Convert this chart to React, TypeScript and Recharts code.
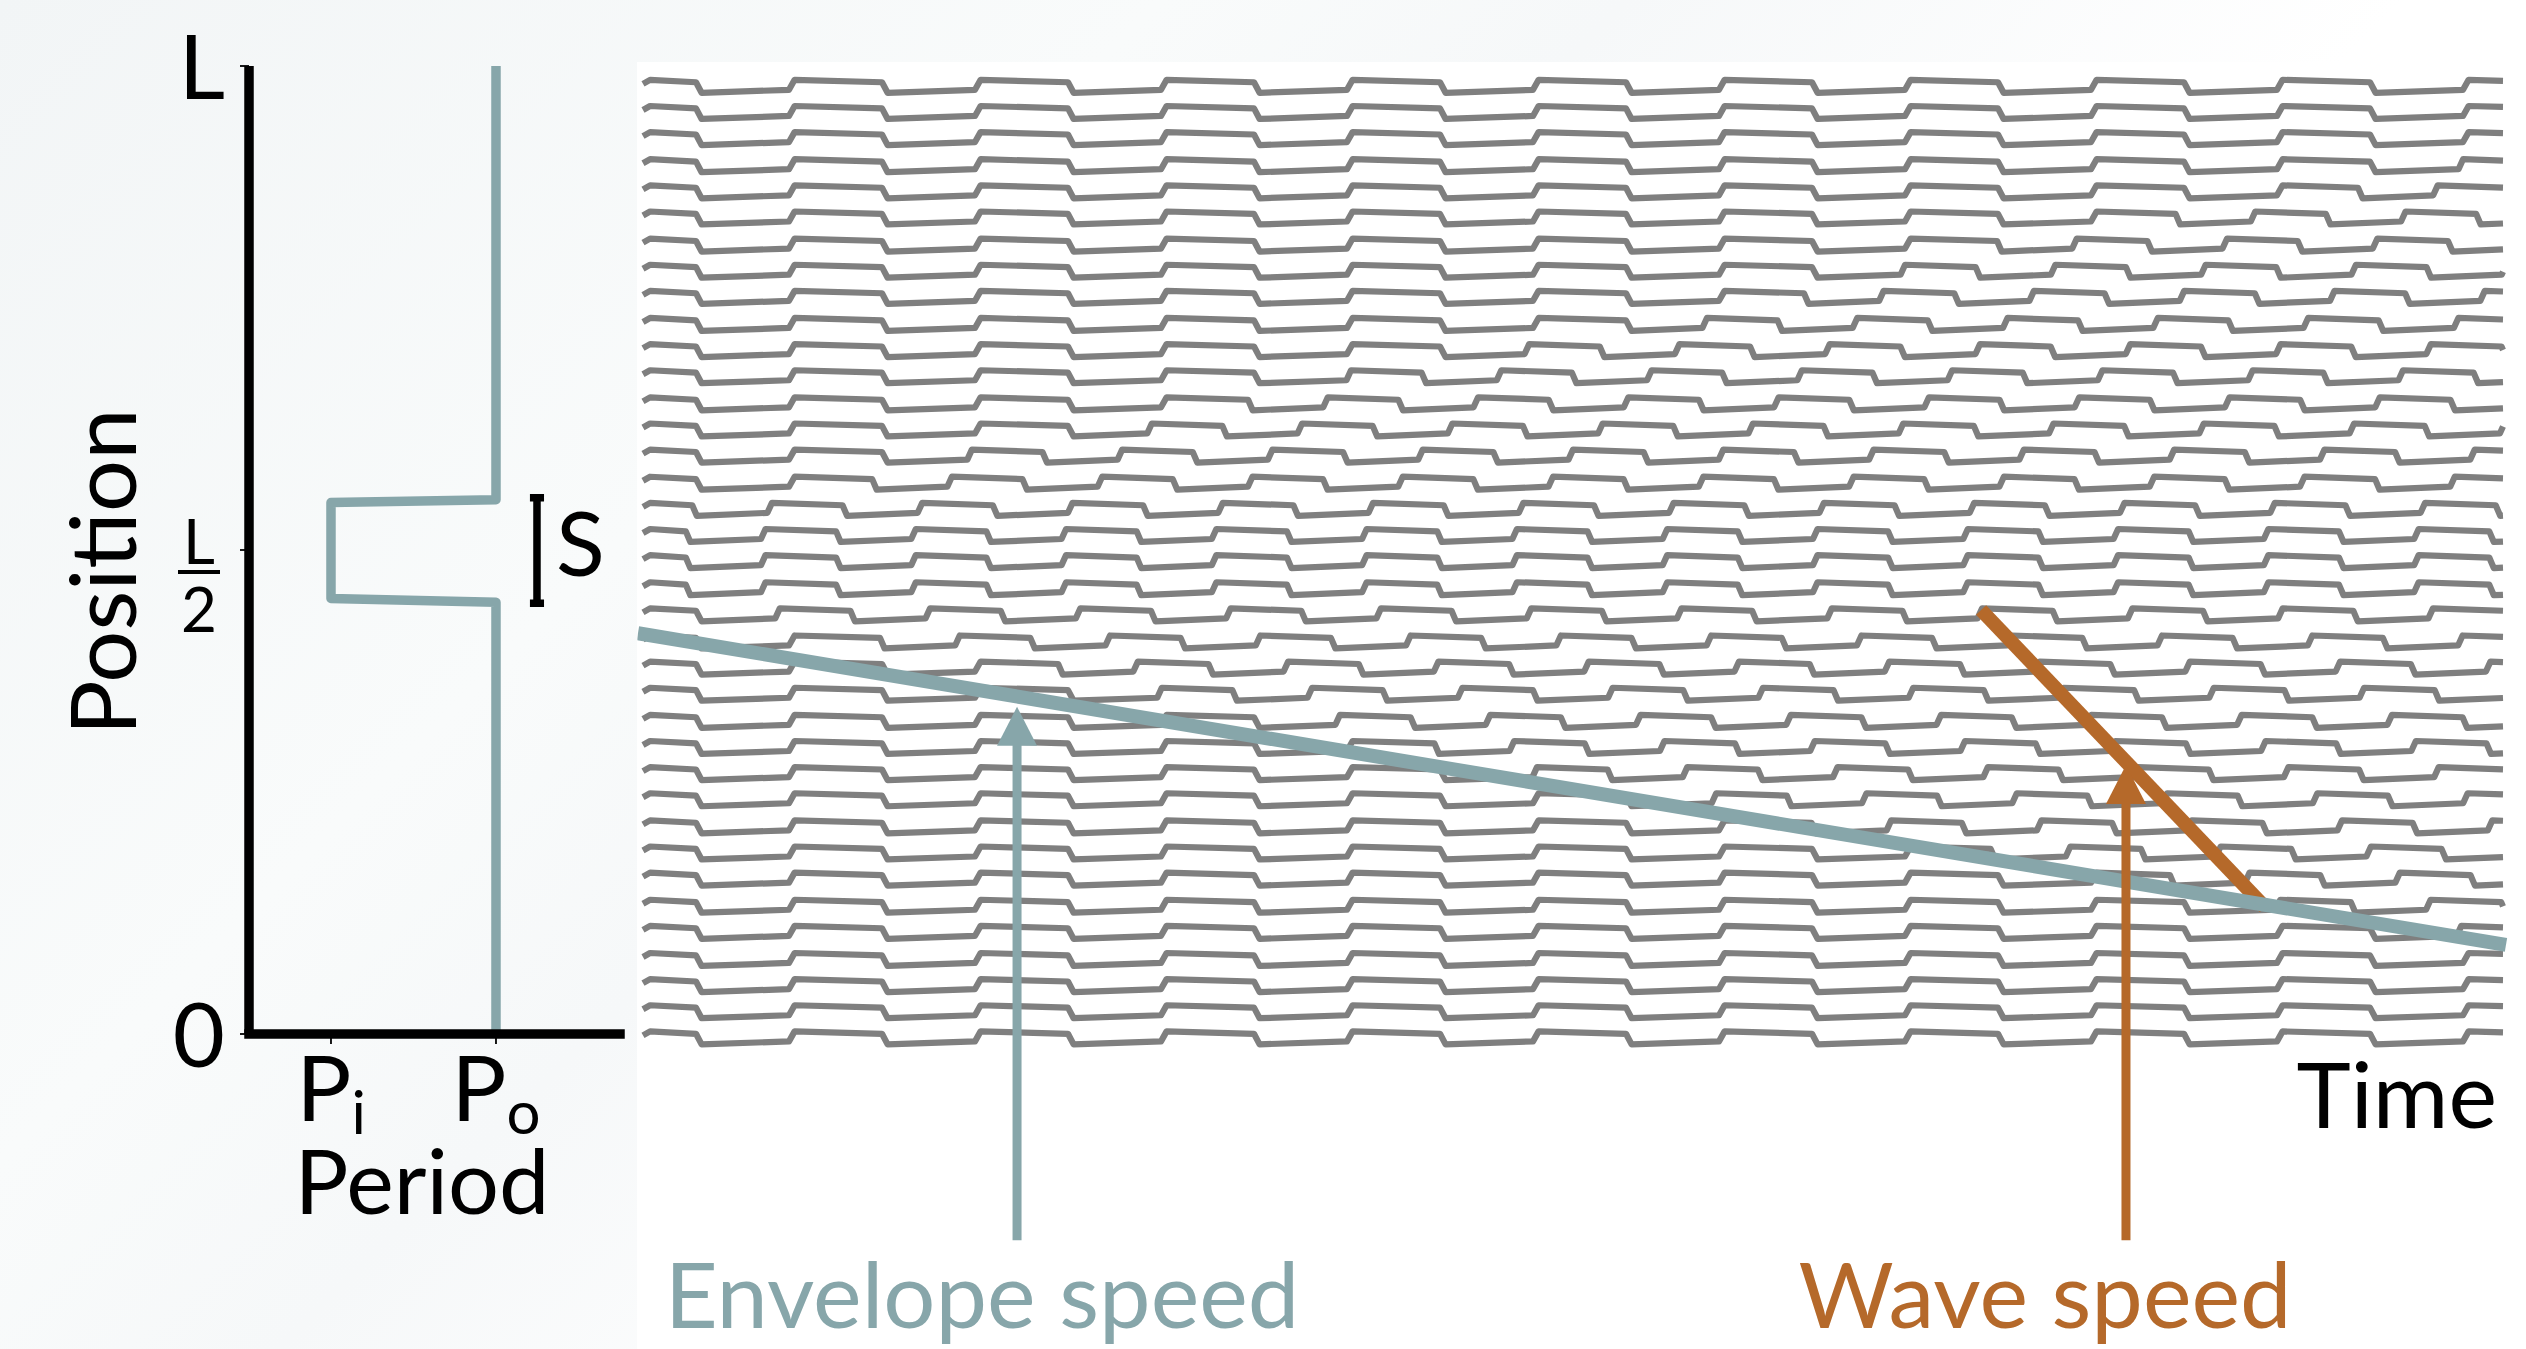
import React from 'react';
import { ComposedChart, Line, XAxis, YAxis } from 'recharts';

const FONT = 'Lato, "Noto Sans", sans-serif';
const TEAL = '#87a6aa';
const ORANGE = '#b5692a';
const GRAY = '#7f7f7f';

// ---------- left panel data ----------
const POSITION_TICKS = [0, 0.5, 1];
const POSITION_TICK_LABELS = ['0', 'L/2', 'L'];
const PERIOD_INNER = 0.808;
const PERIOD_OUTER = 1;
const PERIOD_TICKS = [PERIOD_INNER, PERIOD_OUTER];
const PERIOD_TICK_MAIN = ['P', 'P'];
const PERIOD_TICK_SUB = ['i', 'o'];
const PROFILE_PERIODS = [1, 1, 0.808, 0.808, 1, 1];
const PROFILE_POSITIONS = [0, 0.446, 0.45, 0.549, 0.552, 1];
const S_BRACKET_POSITIONS = [0.445, 0.554];
const S_BRACKET_PERIOD = 1.0477;
const S_BRACKET_HALF = 0.0082;

// ---------- right panel data ----------
// position of each oscillator row (fraction of L)
const ROW_POSITIONS = [
  0.979, 0.952, 0.925, 0.897, 0.87, 0.843, 0.815, 0.788, 0.761, 0.733,
  0.706, 0.679, 0.651, 0.624, 0.597, 0.569, 0.542, 0.515, 0.488, 0.46,
  0.433, 0.405, 0.378, 0.351, 0.323, 0.296, 0.269, 0.242, 0.214, 0.187,
  0.16, 0.132, 0.105, 0.077, 0.05, 0.023, -0.004,
];
// time (in outer periods) at which each row switches from P_o to P_i (null = never)
const ROW_SWITCH_TIMES: (number | null)[] = [
  null, null, null, 9.66, 8.95, 8.05, 7.26, 6.66, 6.06, 5.32,
  4.55, 3.77, 3.12, 2.4, 1.57, 1.01, 0.18, 0, 0, 0,
  0.4, 1.23, 2.01, 2.68, 3.46, 4.13, 4.77, 5.58, 6.27, 7.08,
  7.89, 8.75, 9.61, null, null, null, null,
];
const START_PHASE = 0.2;
const TIME_END = 10;
const WAVE_PHASES = [0.015, 0.485, 0.515, 0.985];
const WAVE_LEVELS = [1, 0.63, -1, -0.54];
const START_HOOK_TIMES = [0, 0.038];
const START_HOOK_LEVELS = [0.38, 1];
const WAVE_AMPLITUDE = 0.0067;

const ENVELOPE_TIMES = [-0.027, 10.016];
const ENVELOPE_POSITIONS = [0.414, 0.092];
const WAVEFRONT_TIMES = [7.194, 8.72];
const WAVEFRONT_POSITIONS = [0.438, 0.131];
const ARROW_TIMES = [2.011, 7.973];
const ARROW_BASES = [-0.213, -0.213];
const ARROW_TIPS = [0.338, 0.278];
const ARROW_COLORS = [TEAL, ORANGE];
const ARROW_HEAD_OFFSET = 0.0248;

// ---------- build tables ----------
const profileData = PROFILE_PERIODS.map((period, i) => ({ period, pos: PROFILE_POSITIONS[i] }));
const bracketData = [
  { period: S_BRACKET_PERIOD - S_BRACKET_HALF, pos: S_BRACKET_POSITIONS[1] },
  { period: S_BRACKET_PERIOD + S_BRACKET_HALF, pos: S_BRACKET_POSITIONS[1] },
  { period: S_BRACKET_PERIOD, pos: S_BRACKET_POSITIONS[1] },
  { period: S_BRACKET_PERIOD, pos: S_BRACKET_POSITIONS[0] },
  { period: S_BRACKET_PERIOD - S_BRACKET_HALF, pos: S_BRACKET_POSITIONS[0] },
  { period: S_BRACKET_PERIOD + S_BRACKET_HALF, pos: S_BRACKET_POSITIONS[0] },
];

function buildRow(pos: number, sw: number | null) {
  const s = sw === null ? Infinity : Math.max(0, sw);
  const phaseAtSwitch = START_PHASE + s / PERIOD_OUTER;
  const timeOf = (ph: number) =>
    ph <= phaseAtSwitch ? (ph - START_PHASE) * PERIOD_OUTER : s + (ph - phaseAtSwitch) * PERIOD_INNER;
  const phaseOf = (t: number) =>
    t <= s ? START_PHASE + t / PERIOD_OUTER : phaseAtSwitch + (t - s) / PERIOD_INNER;
  const pts: { t: number; p: number }[] = [];
  for (let i = 0; i < START_HOOK_TIMES.length; i++) {
    pts.push({ t: START_HOOK_TIMES[i], p: pos + START_HOOK_LEVELS[i] * WAVE_AMPLITUDE });
  }
  const ph0 = phaseOf(START_HOOK_TIMES[START_HOOK_TIMES.length - 1]);
  const phEnd = phaseOf(TIME_END);
  let lastPh = ph0;
  let lastLvl = START_HOOK_LEVELS[START_HOOK_LEVELS.length - 1];
  for (let k = Math.floor(ph0); k <= Math.ceil(phEnd) + 1; k++) {
    for (let j = 0; j < WAVE_PHASES.length; j++) {
      const ph = k + WAVE_PHASES[j];
      if (ph <= ph0) continue;
      if (ph >= phEnd) {
        const f = (phEnd - lastPh) / (ph - lastPh);
        const lvl = lastLvl + f * (WAVE_LEVELS[j] - lastLvl);
        pts.push({ t: TIME_END, p: pos + lvl * WAVE_AMPLITUDE });
        return pts;
      }
      pts.push({ t: timeOf(ph), p: pos + WAVE_LEVELS[j] * WAVE_AMPLITUDE });
      lastPh = ph;
      lastLvl = WAVE_LEVELS[j];
    }
  }
  return pts;
}

const rows = ROW_POSITIONS.map((pos, i) => buildRow(pos, ROW_SWITCH_TIMES[i]));
const envelopeData = ENVELOPE_TIMES.map((t, i) => ({ t, p: ENVELOPE_POSITIONS[i] }));
const wavefrontData = WAVEFRONT_TIMES.map((t, i) => ({ t, p: WAVEFRONT_POSITIONS[i] }));
const arrowData = ARROW_TIMES.map((t, i) => [
  { t, p: ARROW_BASES[i] },
  { t, p: ARROW_TIPS[i] - ARROW_HEAD_OFFSET },
]);

// ---------- ticks ----------
const PositionTick = (props: any) => {
  const { x, y, payload } = props;
  const idx = POSITION_TICKS.indexOf(payload.value);
  const label = POSITION_TICK_LABELS[idx];
  if (label === 'L/2') {
    return (
      <g>
        <text x={x - 41} y={y + 14} textAnchor="middle" fontSize={62} fontFamily={FONT} fill="#000">L</text>
        <line x1={x - 62} x2={x - 20} y1={y + 22} y2={y + 22} stroke="#000" strokeWidth={4} />
        <text x={x - 41} y={y + 82} textAnchor="middle" fontSize={62} fontFamily={FONT} fill="#000">2</text>
      </g>
    );
  }
  return (
    <text x={x - 15} y={y + 33} textAnchor="end" fontSize={90} fontFamily={FONT} fill="#000">
      {label}
    </text>
  );
};

const PeriodTick = (props: any) => {
  const { x, y, payload } = props;
  const idx = PERIOD_TICKS.indexOf(payload.value);
  return (
    <text x={x} y={y + 77} textAnchor="middle" fontSize={92} fontFamily={FONT} fill="#000">
      <tspan>{PERIOD_TICK_MAIN[idx]}</tspan>
      <tspan fontSize={60} dy={13}>{PERIOD_TICK_SUB[idx]}</tspan>
    </text>
  );
};

const makeArrowDot = (color: string) => (props: any) => {
  const { cx, cy, index } = props;
  if (index !== 1) return <g key={`d${index}`} />;
  return (
    <polygon
      key={`h${index}`}
      points={`${cx},${cy - 24} ${cx - 20},${cy + 15} ${cx + 20},${cy + 15}`}
      fill={color}
    />
  );
};

export default function App() {
  return (
    <div
      style={{
        position: 'absolute',
        left: 0,
        top: 0,
        width: 2526,
        height: 1349,
        overflow: 'hidden',
        background: 'linear-gradient(135deg, #f2f5f6 0%, #f9fbfb 30%, #f6f8f9 42%, #ffffff 62%)',
      }}
    >
      <div style={{ position: 'absolute', left: 637, top: 62, width: 1889, height: 1287, background: '#fff' }} />

      {/* left panel */}
      <div style={{ position: 'absolute', left: 0, top: 0 }}>
        <ComposedChart width={640} height={1349} margin={{ top: 66, right: 20, bottom: 215, left: 149 }}>
          <XAxis
            type="number"
            dataKey="period"
            domain={[0.7126, 1.1443]}
            ticks={PERIOD_TICKS}
            interval={0}
            allowDataOverflow
            height={100}
            tickSize={10}
            tickMargin={0}
            axisLine={{ stroke: '#000', strokeWidth: 9.5, strokeLinecap: 'square' }}
            tickLine={{ stroke: '#000', strokeWidth: 1.8 }}
            tick={<PeriodTick />}
          />
          <YAxis
            type="number"
            domain={[0, 1]}
            ticks={POSITION_TICKS}
            interval={0}
            allowDataOverflow
            width={100}
            tickSize={9}
            tickMargin={0}
            axisLine={{ stroke: '#000', strokeWidth: 9.5 }}
            tickLine={{ stroke: '#000', strokeWidth: 1.8 }}
            tick={<PositionTick />}
          />
          <Line
            data={profileData}
            dataKey="pos"
            type="linear"
            stroke={TEAL}
            strokeWidth={9.5}
            strokeLinejoin="round"
            dot={false}
            activeDot={false}
            isAnimationActive={false}
          />
          <Line
            data={bracketData}
            dataKey="pos"
            type="linear"
            stroke="#000"
            strokeWidth={7.5}
            strokeLinejoin="miter"
            dot={false}
            activeDot={false}
            isAnimationActive={false}
          />
        </ComposedChart>
      </div>

      {/* right panel */}
      <div style={{ position: 'absolute', left: 0, top: 0 }}>
        <ComposedChart width={2526} height={1349} margin={{ top: 66, right: 17.42, bottom: 92.36, left: 637.42 }}>
          <XAxis type="number" dataKey="t" domain={[-0.03, 10.03]} allowDataOverflow hide />
          <YAxis type="number" domain={[-0.23, 1]} allowDataOverflow hide />
          {rows.map((data, i) => (
            <Line
              key={`row${i}`}
              data={data}
              dataKey="p"
              type="linear"
              stroke={GRAY}
              strokeWidth={6.2}
              strokeLinejoin="round"
              dot={false}
              activeDot={false}
              isAnimationActive={false}
            />
          ))}
          <Line
            data={wavefrontData}
            dataKey="p"
            type="linear"
            stroke={ORANGE}
            strokeWidth={14}
            dot={false}
            activeDot={false}
            isAnimationActive={false}
          />
          <Line
            data={envelopeData}
            dataKey="p"
            type="linear"
            stroke={TEAL}
            strokeWidth={14}
            dot={false}
            activeDot={false}
            isAnimationActive={false}
          />
          {arrowData.map((data, i) => (
            <Line
              key={`arrow${i}`}
              data={data}
              dataKey="p"
              type="linear"
              stroke={ARROW_COLORS[i]}
              strokeWidth={9}
              dot={makeArrowDot(ARROW_COLORS[i])}
              activeDot={false}
              isAnimationActive={false}
            />
          ))}
        </ComposedChart>
      </div>

      {/* text annotations */}
      <svg
        width={2526}
        height={1349}
        style={{ position: 'absolute', left: 0, top: 0, pointerEvents: 'none' }}
      >
        <text x={556} y={576} fontSize={90} fontFamily={FONT} fill="#000">S</text>
        <text transform="translate(136,572) rotate(-90)" textAnchor="middle" fontSize={92} fontFamily={FONT} fill="#000">
          Position
        </text>
        <text x={422} y={1214} textAnchor="middle" fontSize={90} fontFamily={FONT} fill="#000">Period</text>
        <text x={2497} y={1128} textAnchor="end" fontSize={92} fontFamily={FONT} fill="#000">Time</text>
        <text x={982} y={1328} textAnchor="middle" fontSize={92} fontFamily={FONT} fill={TEAL}>Envelope speed</text>
        <text x={2045} y={1328} textAnchor="middle" fontSize={92} fontFamily={FONT} fill={ORANGE}>Wave speed</text>
      </svg>
    </div>
  );
}
